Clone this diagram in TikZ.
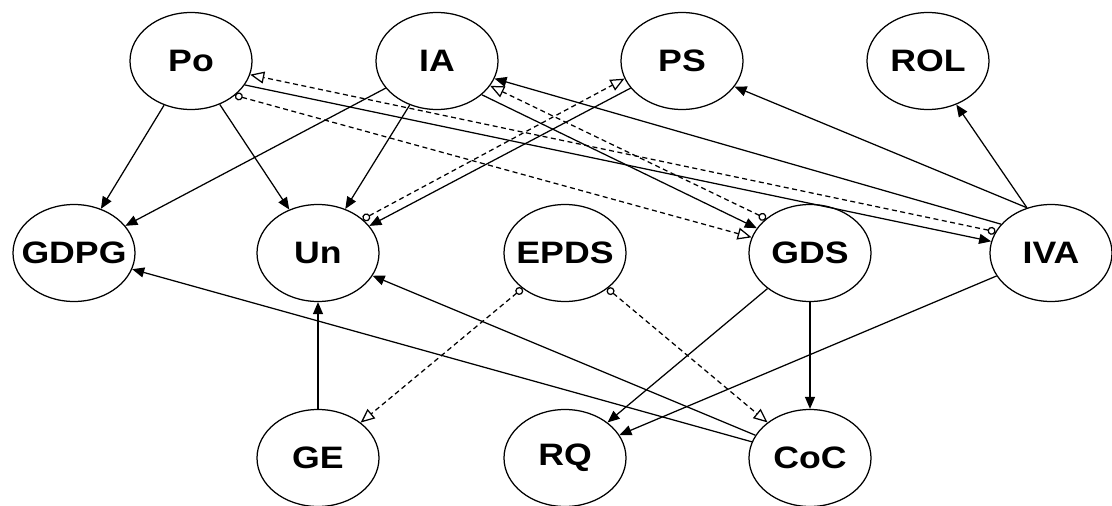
\documentclass[tikz,border=0pt]{standalone}
\usepackage{fontspec}
\newfontfamily\nodefont[FakeStretch=1.15]{Liberation Sans}
\usetikzlibrary{shapes.geometric,arrows.meta}
\newcommand{\lbl}[1]{\makebox[0pt]{\nodefont\bfseries\fontsize{31pt}{31pt}\selectfont #1}}
\begin{document}
\begin{tikzpicture}[x=1pt,y=-1pt,
  ent/.style={ellipse,draw,line width=1.25pt,minimum width=122pt,minimum height=97pt,inner sep=0pt},
  ar/.style={line width=1.25pt,-{Triangle[length=12pt,width=10pt]}},
  da/.style={line width=1.25pt,dash pattern=on 5pt off 3.5pt,{Circle[open,length=8pt,width=8pt]}-{Triangle[open,length=14pt,width=12pt]}}]
\useasboundingbox[fill=white] (0,0) rectangle (1112,506);
% nodes
\node[ent] (Po)   at (191,61)  {\lbl{Po}};
\node[ent] (IA)   at (437,61)  {\lbl{IA}};
\node[ent] (PS)   at (682,61)  {\lbl{PS}};
\node[ent] (ROL)  at (928,61)  {\lbl{ROL}};
\node[ent] (GDPG) at (74,253)  {\lbl{GDPG}};
\node[ent] (Un)   at (318,253) {\lbl{Un}};
\node[ent] (EPDS) at (565,253) {\lbl{EPDS}};
\node[ent] (GDS)  at (810,253) {\lbl{GDS}};
\node[ent] (IVA)  at (1051,253) {\lbl{IVA}};
\node[ent] (GE)   at (318,458) {\lbl{GE}};
\node[ent] (RQ)   at (565,458) {\lbl{RQ}};
\node[ent] (CoC)  at (810,458) {\lbl{CoC}};
% solid connectors
\draw[ar] (Po) -- (GDPG);
\draw[ar] (Po) -- (Un);
\draw[ar] (IA) -- (GDPG);
\draw[ar] (IA) -- (Un);
\draw[ar] (PS) -- (Un);
\draw[ar] (IA.-37) -- (GDS.155);
\draw[ar] (IVA.150) -- (IA.-17);
\draw[ar] (IVA.118) -- (PS.-26);
\draw[ar] (IVA.118) -- (ROL.-57);
\draw[ar] (Po.-24) -- (IVA.169);
\draw[ar] (GDS) -- (RQ);
\draw[ar] (GDS) -- (CoC);
\draw[ar] (IVA) -- (RQ);
\draw[ar] (CoC) -- (GDPG);
\draw[ar] (CoC) -- (Un);
\draw[ar] (GE) -- (Un);
% dashed connectors
\draw[da] (Un.37) -- (PS.197);
\draw[da] (GDS.142) -- (IA.-25);
\draw[da] (IVA.159) -- (Po.-13);
\draw[da] (Po.-38) -- (GDS.165);
\draw[da] (EPDS) -- (GE);
\draw[da] (EPDS) -- (CoC);
\end{tikzpicture}
\end{document}
